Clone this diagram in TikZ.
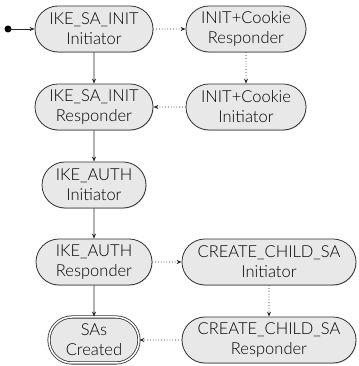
\documentclass[tikz,border=0pt]{standalone}
\usepackage{fontspec}
\setmainfont{Lato Light}
\usetikzlibrary{arrows.meta,shapes.misc,shadows}
\tikzset{
  state/.style={rounded rectangle, draw=black!80, thick, fill=black!9,
    minimum height=46pt, inner xsep=0pt, inner ysep=2pt, align=center,
    font=\fontsize{16.5}{20}\selectfont,
    drop shadow={shadow xshift=0.6pt, shadow yshift=-0.8pt, fill=black!35}},
  go/.style={-{Stealth[length=5pt,width=4pt]}, thick, draw=black!85},
  cookie/.style={-{Stealth[length=5pt,width=4pt]}, thick, dotted, draw=black!85}
}
\begin{document}
\begin{tikzpicture}[x=1pt,y=1pt]
\useasboundingbox (0,0) rectangle (358,366);
\fill (8,337) circle (3.5pt) coordinate (start);
\node[state, minimum width=118pt] (saInitI) at (94,337) {IKE\_SA\_INIT\\Initiator};
\node[state, minimum width=120pt] (cookieR) at (246,337) {INIT+Cookie\\Responder};
\node[state, minimum width=118pt] (saInitR) at (94,259) {IKE\_SA\_INIT\\Responder};
\node[state, minimum width=120pt] (cookieI) at (246,259) {INIT+Cookie\\Initiator};
\node[state, minimum width=104pt] (authI) at (94,181) {IKE\_AUTH\\Initiator};
\node[state, minimum width=116pt] (authR) at (94,104) {IKE\_AUTH\\Responder};
\node[state, minimum width=174pt] (childI) at (269,104) {CREATE\_CHILD\_SA\\Initiator};
\node[state, minimum width=90pt, double, double distance=1.5pt] (done) at (94,26) {SAs\\Created};
\node[state, minimum width=174pt] (childR) at (269,26) {CREATE\_CHILD\_SA\\Responder};
% main exchange
\draw[go] (start) -- (saInitI);
\draw[go] (saInitI) -- (saInitR);
\draw[go] (saInitR) -- (authI);
\draw[go] (authI) -- (authR);
\draw[go] (authR) -- (done);
% cookie and child SA paths
\draw[cookie] (saInitI) -- (cookieR);
\draw[cookie] (cookieR) -- (cookieI);
\draw[cookie] (cookieI) -- (saInitR);
\draw[cookie] (authR) -- (childI);
\draw[cookie] (childI) -- (childR);
\draw[cookie] (childR) -- (done);
\end{tikzpicture}
\end{document}
